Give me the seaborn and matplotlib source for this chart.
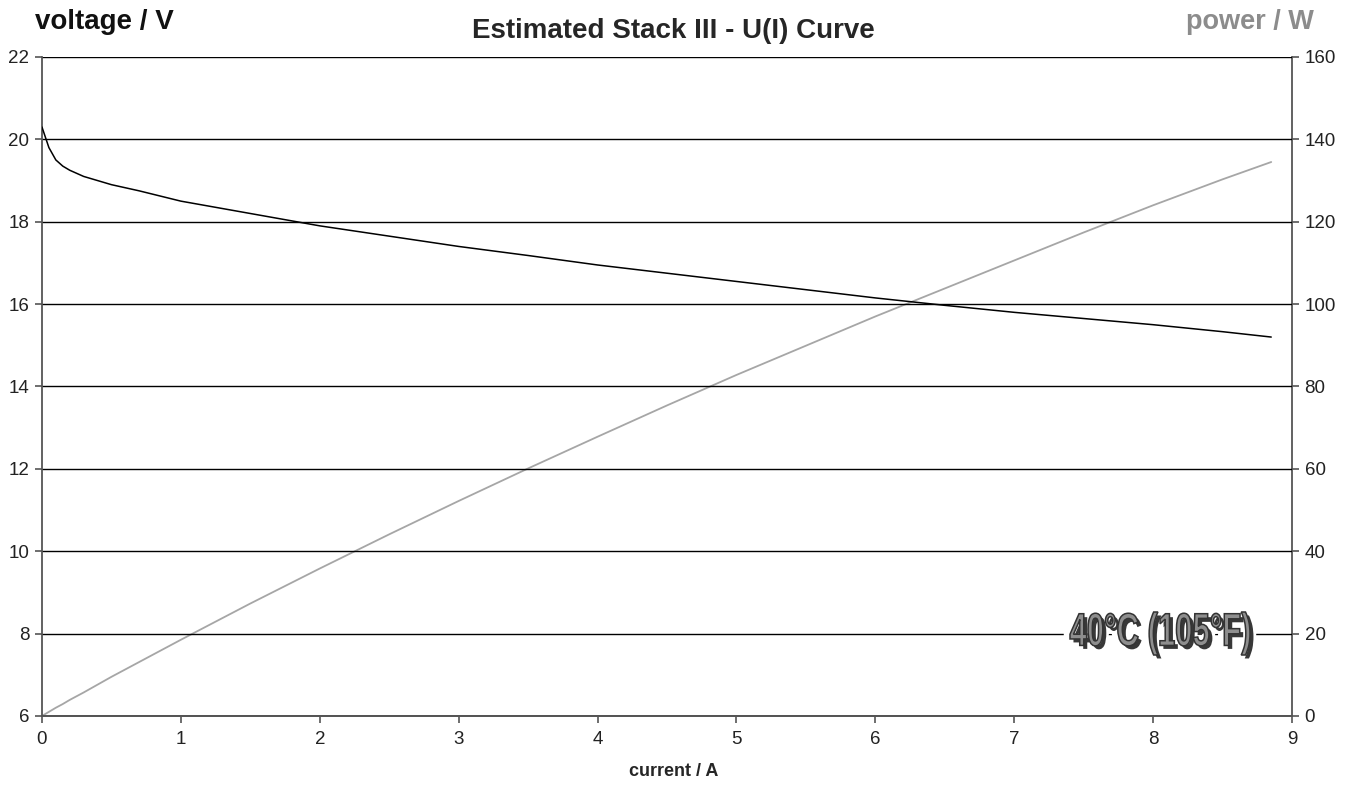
import matplotlib
matplotlib.use("Agg")
import matplotlib.pyplot as plt
import matplotlib.patheffects as pe
from matplotlib.textpath import TextPath
from matplotlib.patches import PathPatch
from matplotlib.font_manager import FontProperties
from matplotlib.transforms import Affine2D, IdentityTransform
import seaborn as sns
import pandas as pd

# values
current = [0.0, 0.02, 0.05, 0.1, 0.15, 0.2, 0.3, 0.5, 0.7, 1.0, 1.5, 2.0, 2.5, 3.0,
           3.5, 4.0, 4.5, 5.0, 5.5, 6.0, 6.5, 7.0, 7.5, 8.0, 8.5, 8.85]
voltage = [20.3, 20.1, 19.8, 19.5, 19.35, 19.25, 19.1, 18.9, 18.75, 18.5, 18.2, 17.9,
           17.65, 17.4, 17.18, 16.95, 16.75, 16.55, 16.35, 16.15, 15.97, 15.8, 15.65,
           15.5, 15.33, 15.2]
power = [0.0, 0.4, 1.0, 2.0, 2.9, 3.9, 5.7, 9.5, 13.1, 18.5, 27.3, 35.8, 44.1, 52.2,
         60.1, 67.8, 75.4, 82.8, 89.9, 97.0, 103.8, 110.6, 117.4, 124.0, 130.3, 134.5]

volt_ticks = [6, 8, 10, 12, 14, 16, 18, 20, 22]
power_ticks = [0, 20, 40, 60, 80, 100, 120, 140, 160]
x_ticks = [0, 1, 2, 3, 4, 5, 6, 7, 8, 9]

df = pd.DataFrame({"current": current, "voltage": voltage, "power": power})

sns.set_style("white")
plt.rcParams["font.family"] = ["Liberation Sans", "DejaVu Sans"]

fig = plt.figure(figsize=(13.49, 7.86), dpi=100)
ax = fig.add_axes([0.0311, 0.0891, 0.9267, 0.8384])
ax2 = ax.twinx()

sns.lineplot(data=df, x="current", y="voltage", ax=ax, color="black", linewidth=1.1, zorder=3)
sns.lineplot(data=df, x="current", y="power", ax=ax2, color="#a6a6a6", linewidth=1.3)

ax.set_xlim(0, 9)
ax.set_ylim(6, 22)
ax2.set_ylim(0, 160)
ax.set_xticks(x_ticks)
ax.set_yticks(volt_ticks)
ax2.set_yticks(power_ticks)

ax.grid(axis="y", color="black", linewidth=1.0)
ax.grid(axis="x", visible=False)
ax.set_axisbelow(True)
ax2.grid(False)
ax.set_zorder(2)
ax.patch.set_visible(False)

for a in (ax, ax2):
    for s in a.spines.values():
        s.set_color("#555555")
        s.set_linewidth(1.3)
    a.spines["top"].set_visible(False)
    a.tick_params(direction="out", length=5, width=1.2, color="#555555",
                  labelsize=13.5, labelcolor="#222222")
ax.spines["right"].set_visible(False)
ax2.spines["left"].set_visible(False)
ax.tick_params(axis="y", left=True, pad=4)
ax.tick_params(axis="x", bottom=True, pad=6)
ax2.tick_params(axis="y", right=True, pad=4)

ax.set_xlabel("current / A", fontsize=13, fontweight="bold", labelpad=10)
ax.xaxis.set_label_coords(0.505, -0.072)
ax.set_ylabel("")
ax2.set_ylabel("")

fig.text(0.026, 0.972, "voltage / V", fontsize=20, fontweight="bold", color="#111111",
         ha="left", va="center")
fig.text(0.974, 0.972, "power / W", fontsize=19.5, fontweight="bold", color="#8c8c8c",
         ha="right", va="center")
fig.text(0.499, 0.960, "Estimated Stack III - U(I) Curve", fontsize=20, fontweight="bold",
         ha="center", va="center")

# condensed stamp-like temperature label, squeezed into the box it has in the reference
tp = TextPath((0, 0), "40°C (105°F)", size=40,
              prop=FontProperties(family="Liberation Sans", weight="bold"))
ext = tp.get_extents()
left_px, right_px, bottom_px, top_px = 1070, 1250, 786 - 655, 786 - 612
sx = (right_px - left_px) / ext.width
sy = (top_px - bottom_px) / ext.height
tr = Affine2D().translate(-ext.x0, -ext.y0).scale(sx, sy).translate(left_px, bottom_px)
stamp = PathPatch(tr.transform_path(tp), transform=IdentityTransform(),
                  facecolor="#8e8e8e", edgecolor="#333333", linewidth=1.1, zorder=10)
stamp.set_path_effects([pe.Stroke(linewidth=9, foreground="white"),
                        pe.SimplePatchShadow(offset=(2.5, -2.5), shadow_rgbFace="#222222", alpha=0.9),
                        pe.Normal()])
fig.add_artist(stamp)

fig.savefig("out.png", dpi=100)
